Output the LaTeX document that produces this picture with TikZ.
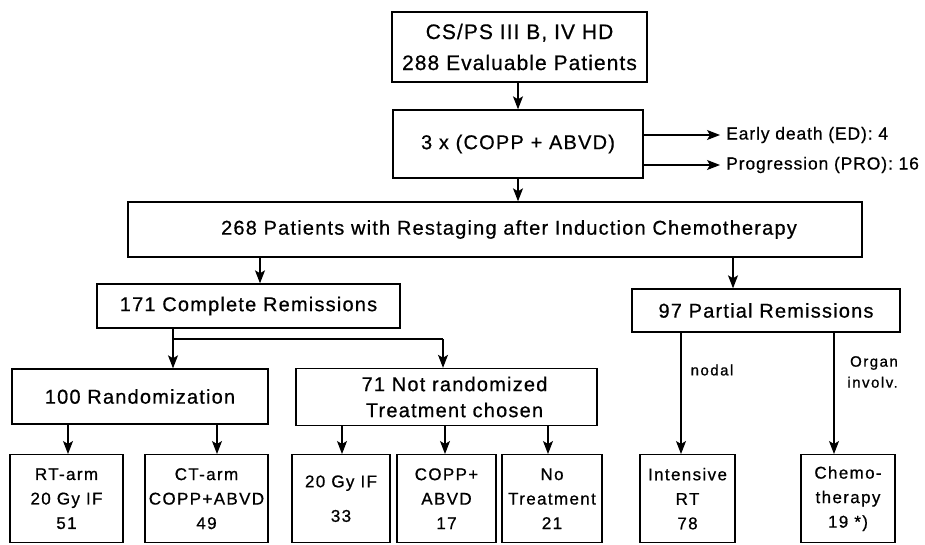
\documentclass[tikz,border=0pt]{standalone}
\usepackage{fontspec}
\setmainfont{Liberation Sans}
\newfontfamily\fntA[LetterSpace=6,FakeBold=0.6]{Liberation Sans}
\newfontfamily\fntB[LetterSpace=5,FakeBold=0.6]{Liberation Sans}
\newfontfamily\fntC[LetterSpace=10,FakeBold=0.8]{Liberation Sans}
\newfontfamily\fntD[LetterSpace=8,FakeBold=0.7]{Liberation Sans}
\usetikzlibrary{arrows.meta}
\begin{document}
\begin{tikzpicture}[x=1pt,y=-1pt,
  box/.style={draw,line width=1.4pt,inner sep=0pt,align=center},
  arr/.style={line width=1.1pt,-{Stealth[length=13pt,width=10pt,inset=3pt]}},
  ln/.style={line width=1.1pt},
  big/.style={font={\fntA\fontsize{20}{26}\selectfont}},
  topf/.style={font={\fntB\fontsize{21}{31}\selectfont}},
  small/.style={font={\fntD\fontsize{17}{24.5}\selectfont}},
  sidef/.style={font={\fntB\fontsize{17.5}{22}\selectfont}},
  lab/.style={font={\fntC\fontsize{15}{21}\selectfont}},
  bot/.style={box,small,minimum height=88pt,anchor=north},
]
\useasboundingbox (0,0) rectangle (925,544);
\fill[white] (0,0) rectangle (925,544);

% boxes
\node[box,topf,minimum width=255pt,minimum height=70pt] (top) at (519.5,47) {CS/PS III B, IV HD\\288 Evaluable Patients};
\node[box,big,minimum width=250pt,minimum height=68pt] (ind) at (518,144) {3 x (COPP + ABVD)};
\node[box,big,minimum width=734pt,minimum height=55pt] (restage) at (495,229.5) {\hspace*{28pt}268 Patients with Restaging after Induction Chemotherapy};
\node[box,big,minimum width=303pt,minimum height=44pt] (cr) at (248.5,306) {171 Complete Remissions};
\node[box,big,minimum width=268pt,minimum height=43pt] (pr) at (766,310.5) {97 Partial Remissions};
\node[box,big,minimum width=256pt,minimum height=55pt] (rand) at (140,396.5) {100 Randomization};
\node[box,big,minimum width=301pt,minimum height=57pt] (nr) at (446.5,397) {\hspace*{16pt}71 Not randomized\\\hspace*{16pt}Treatment chosen};

\node[bot,minimum width=113pt] (rt) at (66.5,454) {RT-arm\\20 Gy IF\\51};
\node[bot,minimum width=123pt] (ct) at (206.5,454) {CT-arm\\COPP+ABVD\\49};
\node[bot,minimum width=98pt] (gy) at (341,454) {20 Gy IF\\[10pt]33};
\node[bot,minimum width=99pt] (ca) at (446.5,454) {COPP+\\ABVD\\17};
\node[bot,minimum width=100pt] (nt) at (552,454) {No\\Treatment\\21};
\node[bot,minimum width=95pt] (irt) at (687.5,454) {Intensive\\RT\\78};
\node[bot,minimum width=94pt] (ch) at (848,454) {Chemo-\\therapy\\19 *)};

% side outcomes
\node[sidef,anchor=west,inner xsep=6pt,inner ysep=0pt] (ed) at (720,135) {Early death (ED): 4};
\node[sidef,anchor=west,inner xsep=6pt,inner ysep=0pt] (pro) at (720,165) {Progression (PRO): 16};
\draw[arr] (ind.east |- ed) -- (ed.west);
\draw[arr] (ind.east |- pro) -- (pro.west);

% labels
\node[lab] (nodal) at (712,370) {nodal};
\node[lab,align=right,anchor=east,inner sep=0pt] (organ) at (898,372) {Organ\\involv.};

% x positions of connectors
\coordinate (xa) at (518,0);
\coordinate (xcr) at (260,0);
\coordinate (xpr) at (733,0);
\coordinate (j1) at (173,339);
\coordinate (j2) at (443,339);
\coordinate (xrt) at (68,0);
\coordinate (xct) at (217,0);
\coordinate (xgy) at (342,0);
\coordinate (xca) at (445,0);
\coordinate (xnt) at (548,0);
\coordinate (xirt) at (681,0);
\coordinate (xch) at (834,0);

% connectors
\draw[arr] (top.south -| xa) -- (ind.north -| xa);
\draw[arr] (ind.south -| xa) -- (restage.north -| xa);
\draw[arr] (restage.south -| xcr) -- (cr.north -| xcr);
\draw[arr] (restage.south -| xpr) -- (pr.north -| xpr);
\draw[ln] (cr.south -| j1) -- (j1) -- (j2);
\draw[arr] (j1) -- (rand.north -| j1);
\draw[arr] (j2) -- (nr.north -| j2);
\draw[arr] (rand.south -| xrt) -- (rt.north -| xrt);
\draw[arr] (rand.south -| xct) -- (ct.north -| xct);
\draw[arr] (nr.south -| xgy) -- (gy.north -| xgy);
\draw[arr] (nr.south -| xca) -- (ca.north -| xca);
\draw[arr] (nr.south -| xnt) -- (nt.north -| xnt);
\draw[arr] (pr.south -| xirt) -- (irt.north -| xirt);
\draw[arr] (pr.south -| xch) -- (ch.north -| xch);
\end{tikzpicture}
\end{document}
